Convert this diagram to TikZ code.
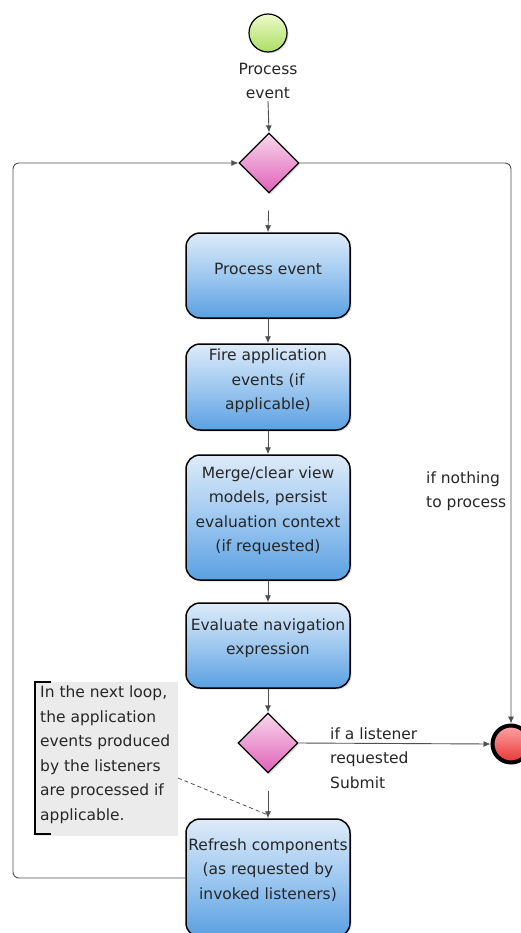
\documentclass[tikz,border=0pt]{standalone}
\usepackage{fontspec}
\setmainfont{DejaVu Sans}
\usetikzlibrary{shapes.geometric,arrows.meta,shadows}
\definecolor{txt}{HTML}{262626}
\definecolor{ln}{HTML}{505050}
\begin{document}
\begin{tikzpicture}[x=1pt,y=-1pt,
  every node/.style={text=txt,font=\fontsize{15.5}{24.5}\selectfont},
  shad/.style={drop shadow={shadow xshift=1.5pt,shadow yshift=-1.5pt,opacity=0.25}},
  boxnode/.style={draw=black,line width=1.5pt,rounded corners=14pt,minimum width=164,
    top color={rgb,255:red,222;green,235;blue,249},bottom color={rgb,255:red,90;green,160;blue,226},
    middle color={rgb,255:red,158;green,200;blue,240},shad,inner sep=0pt},
  txtnode/.style={align=center,inner sep=0pt},
  decision/.style={diamond,draw=black,line width=1.2pt,minimum width=60,minimum height=60,inner sep=0pt,
    top color={rgb,255:red,248;green,216;blue,236},bottom color={rgb,255:red,224;green,96;blue,184},shad},
  arr/.style={draw=ln,line width=0.9pt,-{Latex[length=7pt,width=6pt]}},
  lbl/.style={align=left,inner sep=0pt,anchor=west}
]
\useasboundingbox (0,0) rectangle (520,933);

% start
\node[circle,draw=black,line width=1.2pt,minimum size=38,inner sep=0pt,
  top color={rgb,255:red,236;green,250;blue,200},bottom color={rgb,255:red,172;green,222;blue,100},shad] (start) at (268,33) {};
\node[txtnode,inner sep=2pt] (sl) at (268,81) {Process\\event};

\node[decision] (d1) at (269,163) {};

\node[boxnode,minimum height=85] (b1) at (268,275.5) {};
\node[txtnode] (t1) at (268,269) {Process event};

\node[boxnode,minimum height=86] (b2) at (268,387) {};
\node[txtnode] (t2) at (268,381) {Fire application\\events (if\\applicable)};

\node[boxnode,minimum height=125] (b3) at (268,517.5) {};
\node[txtnode] (t3) at (268,510.5) {Merge/clear view\\models, persist\\evaluation context\\(if requested)};

\node[boxnode,minimum height=85] (b4) at (268,645.5) {};
\node[txtnode] (t4) at (268,638) {Evaluate navigation\\expression};

\node[decision] (d2) at (268,743) {};

\node[boxnode,minimum height=118] (b5) at (268,878) {};
\node[txtnode] (t5) at (268,870) {Refresh components\\(as requested by\\invoked listeners)};

% end
\node[circle,draw=black,line width=4pt,minimum size=37,inner sep=0pt,
  top color={rgb,255:red,255;green,165;blue,165},bottom color={rgb,255:red,232;green,52;blue,52}] (end) at (511,744) {};

% note
\fill[fill={rgb,255:red,235;green,235;blue,235}] (35,682) rectangle (178,836);
\node[inner sep=0pt,minimum width=143,minimum height=154,anchor=north west] (note) at (35,682) {};
\draw[black,line width=1.5pt] (51,682) -| (35,834) -- (51,834);
\node[lbl,anchor=north west,align=left] (nt) at (40,686) {In the next loop,\\the application\\events produced\\by the listeners\\are processed if\\applicable.};

% labels
\node[lbl] (ln1) at (426,491) {if nothing\\to process};
\node[lbl] (ln2) at (330,758) {if a listener\\requested\\Submit};

% connectors
\draw[arr] (sl.south) -- (d1.north);
\draw[arr,shorten <=17pt] (d1.south) -- (b1.north);
\draw[arr] (b1.south) -- (b2.north);
\draw[arr] (b2.south) -- (b3.north);
\draw[arr] (b3.south) -- (b4.north);
\draw[arr] (b4.south) -- (d2.north);
\draw[arr,shorten <=17pt] (d2.south) -- (b5.north);
\draw[arr] (d2.east) -- (end.west);
\draw[arr,rounded corners=6pt] (d1.east) -| (end.north);
\coordinate (lp) at (13,500);
\draw[arr,rounded corners=6pt] (b5.west) -| (lp) |- (d1.west);
\coordinate (ds) at (178,778);
\coordinate (dt) at (268,815);
\draw[ln,line width=0.8pt,dash pattern=on 4pt off 3pt] (ds) -- (dt);
\end{tikzpicture}
\end{document}
